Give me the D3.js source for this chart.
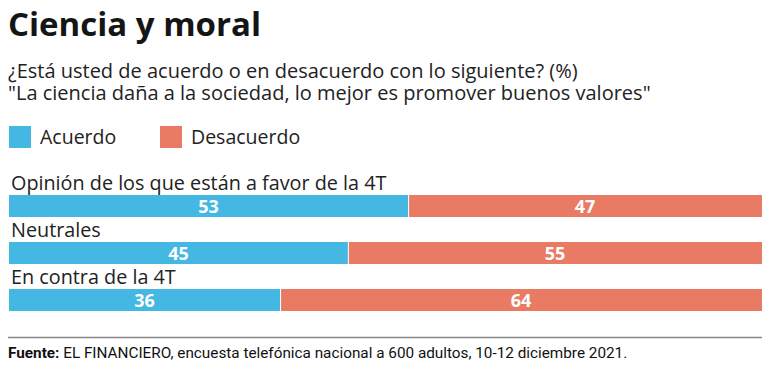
<!DOCTYPE html>
<html>
<head>
<meta charset="utf-8">
<script src="https://cdn.jsdelivr.net/npm/d3@7"></script>
<style>
  body { margin: 0; background: #fff; }
  svg { display: block; font-family: "Open Sans", sans-serif; }
</style>
</head>
<body>
<div id="chart"></div>
<script>
var categories = ['Opinión de los que están a favor de la 4T', 'Neutrales', 'En contra de la 4T'];
var series = ['Acuerdo', 'Desacuerdo'];
var acuerdo = [53, 45, 36];
var desacuerdo = [47, 55, 64];
var colors = ['#45b7e3', '#e97b65'];

var width = 775, height = 370;
var svg = d3.select('#chart').append('svg')
    .attr('width', width)
    .attr('height', height);

svg.append('text')
    .attr('x', 8).attr('y', 36)
    .attr('font-size', 33).attr('font-weight', 700)
    .attr('fill', '#151515')
    .text('Ciencia y moral');

// subtitle, two lines
var sub = svg.append('text')
    .attr('x', 8).attr('y', 78)
    .attr('font-size', 20).attr('fill', '#222');
sub.append('tspan').attr('x', 8)
    .text('¿Está usted de acuerdo o en desacuerdo con lo siguiente? (%)');
sub.append('tspan').attr('x', 8).attr('dy', 22)
    .text('"La ciencia daña a la sociedad, lo mejor es promover buenos valores"');

// legend
var legend = svg.append('g').attr('class', 'legend');
var legX = [9, 160];
series.forEach(function (s, i) {
  legend.append('rect')
      .attr('x', legX[i]).attr('y', 126)
      .attr('width', 22).attr('height', 22)
      .attr('fill', colors[i]);
  legend.append('text')
      .attr('x', legX[i] + 31).attr('y', 144)
      .attr('font-size', 19.5).attr('fill', '#222')
      .text(s);
});

// bars
var x = d3.scaleLinear().domain([0, 100]).range([9, 762]);
var y = d3.scaleBand().domain(categories).range([172, 313]).paddingInner(0).paddingOuter(0);
var barH = 22;

var rows = categories.map(function (c, i) {
  return { cat: c, vals: [acuerdo[i], desacuerdo[i]] };
});

var row = svg.selectAll('.row')
  .data(rows)
  .enter().append('g')
    .attr('class', 'row')
    .attr('transform', function (d) { return 'translate(0,' + y(d.cat) + ')'; });

row.append('text')
    .attr('x', 11).attr('y', 18)
    .attr('font-size', 19.8).attr('fill', '#222')
    .text(function (d) { return d.cat; });

var segs = row.selectAll('.seg')
  .data(function (d) {
    var start = 0;
    return d.vals.map(function (v, i) {
      var s = { x0: start, x1: start + v, v: v, i: i };
      start += v;
      return s;
    });
  })
  .enter().append('g').attr('class', 'seg');

segs.append('rect')
    .attr('x', function (d) { return x(d.x0) + (d.i > 0 ? 1 : 0); })
    .attr('y', 23)
    .attr('width', function (d) { return x(d.x1) - x(d.x0) - (d.i > 0 ? 1 : 0); })
    .attr('height', barH)
    .attr('fill', function (d) { return colors[d.i]; });

segs.append('text')
    .attr('x', function (d) { return (x(d.x0) + x(d.x1)) / 2; })
    .attr('y', 41)
    .attr('text-anchor', 'middle')
    .attr('font-size', 18).attr('font-weight', 700)
    .attr('fill', '#fff')
    .text(function (d) { return d.v; });

// footer
svg.append('line')
    .attr('x1', 8).attr('x2', 762)
    .attr('y1', 337.5).attr('y2', 337.5)
    .attr('stroke', '#888').attr('stroke-width', 1.5);

var foot = svg.append('text')
    .attr('x', 8).attr('y', 358)
    .attr('font-size', 15.3).attr('fill', '#111')
    .attr('font-family', '"Liberation Sans Narrow", "Roboto", sans-serif');
foot.append('tspan').attr('font-weight', 700).text('Fuente: ');
foot.append('tspan').text('EL FINANCIERO, encuesta telefónica nacional a 600 adultos, 10-12 diciembre 2021.');
</script>
</body>
</html>
